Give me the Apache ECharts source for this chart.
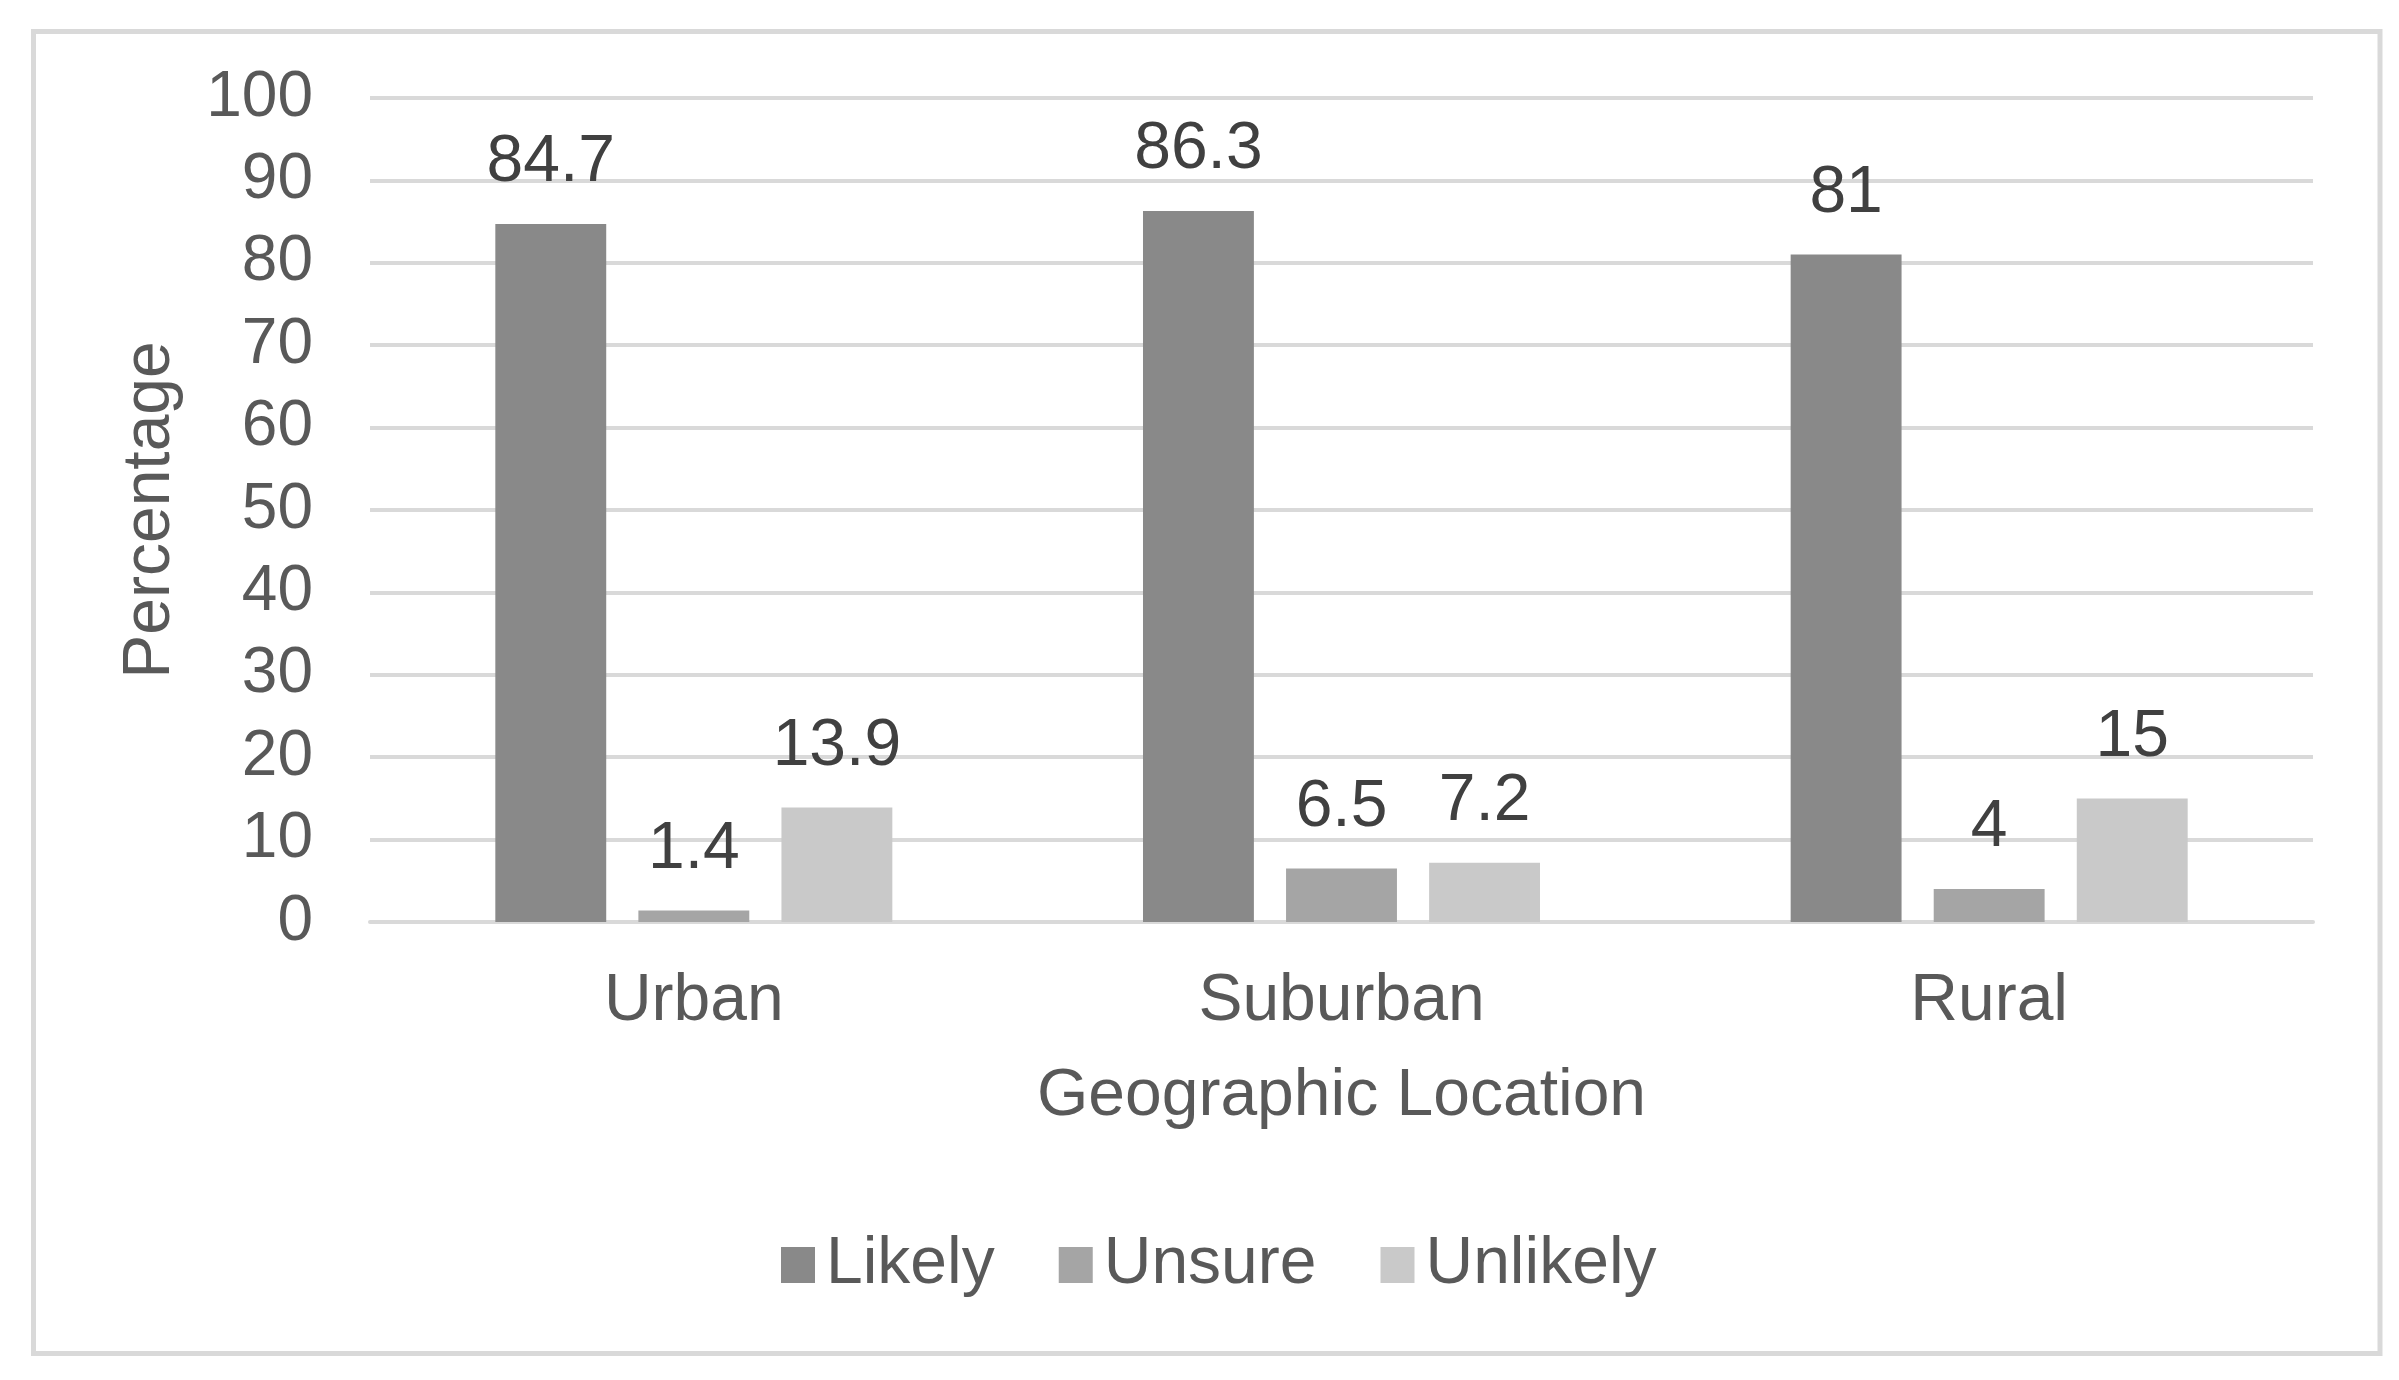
<!DOCTYPE html>
<html>
<head>
<meta charset="utf-8">
<script src="https://cdn.jsdelivr.net/npm/echarts@6/dist/echarts.min.js"></script>
<style>
html,body{margin:0;padding:0;background:#fff;}
#chart{width:2399px;height:1380px;}
</style>
</head>
<body>
<div id="chart"></div>
<script>
const categories = ['Urban', 'Suburban', 'Rural'];
const seriesNames = ['Likely', 'Unsure', 'Unlikely'];
const likelyValues = [84.7, 86.3, 81];
const unsureValues = [1.4, 6.5, 4];
const unlikelyValues = [13.9, 7.2, 15];
const xAxisTitle = 'Geographic Location';
const yAxisTitle = 'Percentage';

const colors = ['#898989', '#a5a5a5', '#c9c9c9'];
const FONT = '"Liberation Sans", Arial, sans-serif';
const chart = echarts.init(document.getElementById('chart'), null, {renderer: 'canvas'});

const dataSets = [likelyValues, unsureValues, unlikelyValues];
const series = seriesNames.map((name, i) => ({
  name: name,
  type: 'bar',
  data: dataSets[i],
  barCategoryGap: '38.7%',
  barGap: '29%',
  itemStyle: {color: colors[i]},
  label: {
    show: true,
    position: 'top',
    distance: 28,
    color: '#404040',
    fontSize: 66,
    fontFamily: FONT
  }
}));

chart.setOption({
  animation: false,
  backgroundColor: '#ffffff',
  graphic: [{
    type: 'rect',
    shape: {x: 33.5, y: 31.5, width: 2346.5, height: 1322},
    style: {fill: 'none', stroke: '#d9d9d9', lineWidth: 5},
    z: 100
  }],
  grid: {left: 370, right: 86, top: 98, bottom: 458, containLabel: false},
  legend: {
    data: seriesNames,
    left: 776,
    top: 1227,
    itemWidth: 34,
    itemHeight: 36,
    itemGap: 64,
    icon: 'rect',
    textStyle: {color: '#595959', fontSize: 66, fontFamily: FONT, padding: [0, 0, 0, 6]}
  },
  xAxis: {
    type: 'category',
    data: categories,
    name: xAxisTitle,
    nameLocation: 'middle',
    nameGap: 142,
    nameTextStyle: {color: '#595959', fontSize: 66, fontFamily: FONT},
    axisLine: {show: true, lineStyle: {color: '#d9d9d9', width: 4}},
    axisTick: {show: false},
    axisLabel: {color: '#595959', fontSize: 66, fontFamily: FONT, margin: 47}
  },
  yAxis: {
    type: 'value',
    min: 0,
    max: 100,
    interval: 10,
    name: yAxisTitle,
    nameLocation: 'middle',
    nameRotate: 90,
    nameGap: 186,
    nameTextStyle: {color: '#595959', fontSize: 66, fontFamily: FONT},
    axisLine: {show: false},
    axisTick: {show: false},
    axisLabel: {color: '#595959', fontSize: 64, fontFamily: FONT, margin: 57},
    splitLine: {show: true, lineStyle: {color: '#d9d9d9', width: 4}}
  },
  series: series
});
</script>
</body>
</html>
